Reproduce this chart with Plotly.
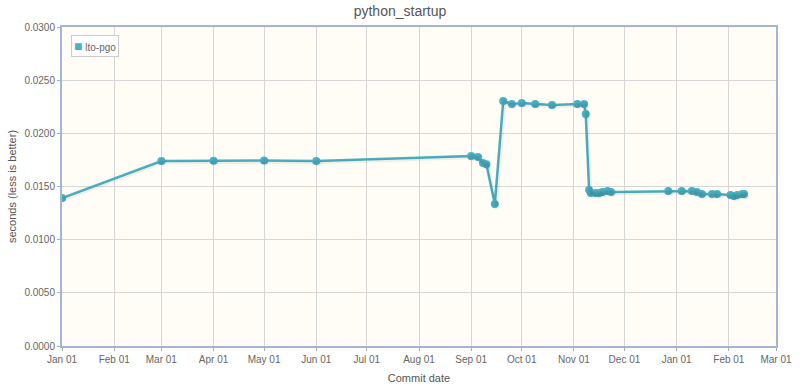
import plotly.graph_objects as go
import pandas as pd

dates = ["2018-01-01", "2018-03-01", "2018-04-01", "2018-05-01", "2018-06-01",
         "2018-09-01", "2018-09-05", "2018-09-08", "2018-09-10", "2018-09-15",
         "2018-09-20", "2018-09-25", "2018-10-01", "2018-10-09", "2018-10-19",
         "2018-11-03", "2018-11-07", "2018-11-08", "2018-11-10", "2018-11-11",
         "2018-11-14", "2018-11-16", "2018-11-18", "2018-11-21", "2018-11-23",
         "2018-12-27", "2019-01-04", "2019-01-10", "2019-01-13", "2019-01-16",
         "2019-01-22", "2019-01-25", "2019-02-02", "2019-02-04", "2019-02-06",
         "2019-02-09", "2019-02-10"]
seconds = [0.01392, 0.01740, 0.01742, 0.01745, 0.01740,
           0.01787, 0.01777, 0.01720, 0.01710, 0.01335,
           0.02304, 0.02276, 0.02285, 0.02276, 0.02266,
           0.02276, 0.02276, 0.02182, 0.01467, 0.01439,
           0.01439, 0.01439, 0.01448, 0.01458, 0.01448,
           0.01458, 0.01458, 0.01458, 0.01448, 0.01430,
           0.01430, 0.01430, 0.01420, 0.01410, 0.01420,
           0.01430, 0.01430]
series_name = "lto-pgo"

x_start = pd.Timestamp("2018-01-01")
x_end = pd.Timestamp("2019-03-01")
y_min, y_max = 0.0, 0.03

plot_w, plot_h = 714, 319
span_ms = (x_end - x_start).total_seconds() * 1000
shift_px = 1.5
dx_ms = span_ms / plot_w * shift_px
dy = (y_max - y_min) / plot_h * shift_px

color = "#4bb2c5"
grey = "#666666"
border = "#a4b4d2"

fig = go.Figure()
# soft drop shadow (same data drawn on an offset overlay axis pair)
fig.add_trace(go.Scatter(
    x=dates, y=seconds, mode="lines+markers", xaxis="x2", yaxis="y2",
    line=dict(color="rgba(0,0,0,0.06)", width=3.5),
    marker=dict(size=8, color="rgba(0,0,0,0.05)"),
    showlegend=False, hoverinfo="skip"))
fig.add_trace(go.Scatter(
    x=dates, y=seconds, mode="lines+markers", name=series_name,
    line=dict(color=color, width=2.5),
    marker=dict(size=8, color=color, line=dict(width=0)),
    showlegend=False))

# compact legend box like the original
fig.add_annotation(
    xref="paper", yref="paper", x=0.0126, y=0.975, xanchor="left", yanchor="top",
    text=f"<span style='color:{color};font-size:14px'>■</span> {series_name}",
    showarrow=False, bgcolor="white", bordercolor="#cccccc", borderwidth=1,
    borderpad=2, font=dict(size=10, color=grey))

fig.update_layout(
    width=800, height=386,
    margin=dict(l=62, r=24, t=27, b=40, autoexpand=False),
    paper_bgcolor="white",
    plot_bgcolor="#fffdf6",
    font=dict(family="Liberation Sans, Arial, sans-serif", color=grey, size=10),
    title=dict(text="python_startup", x=0.5, xanchor="center", y=0.972,
               yanchor="middle", font=dict(size=14, color="#555555")),
    showlegend=False,
    xaxis=dict(
        range=[x_start, x_end], type="date", dtick="M1", tick0="2018-01-01",
        tickformat="%b %d", showgrid=True, gridcolor="#d6d6d6", gridwidth=1,
        showline=True, linecolor=border, linewidth=2, mirror=True,
        ticks="outside", ticklen=3, tickcolor="#aaaaaa", automargin=False,
        tickfont=dict(size=10, color=grey), zeroline=False,
        title=dict(text="Commit date", font=dict(size=11, color="#555555"),
                   standoff=10)),
    yaxis=dict(
        range=[y_min, y_max], dtick=0.005, tickformat=".4f",
        showgrid=True, gridcolor="#d6d6d6", gridwidth=1,
        showline=True, linecolor=border, linewidth=2, mirror=True,
        ticks="outside", ticklen=3, tickcolor="#aaaaaa", automargin=False,
        tickfont=dict(size=10, color=grey), zeroline=False,
        title=dict(text="seconds (less is better)",
                   font=dict(size=11, color="#555555"), standoff=6)),
    xaxis2=dict(
        overlaying="x", type="date", visible=False,
        range=[x_start - pd.Timedelta(milliseconds=dx_ms),
               x_end - pd.Timedelta(milliseconds=dx_ms)]),
    yaxis2=dict(
        overlaying="y", visible=False,
        range=[y_min + dy, y_max + dy]),
)

fig.write_html("out.html")
